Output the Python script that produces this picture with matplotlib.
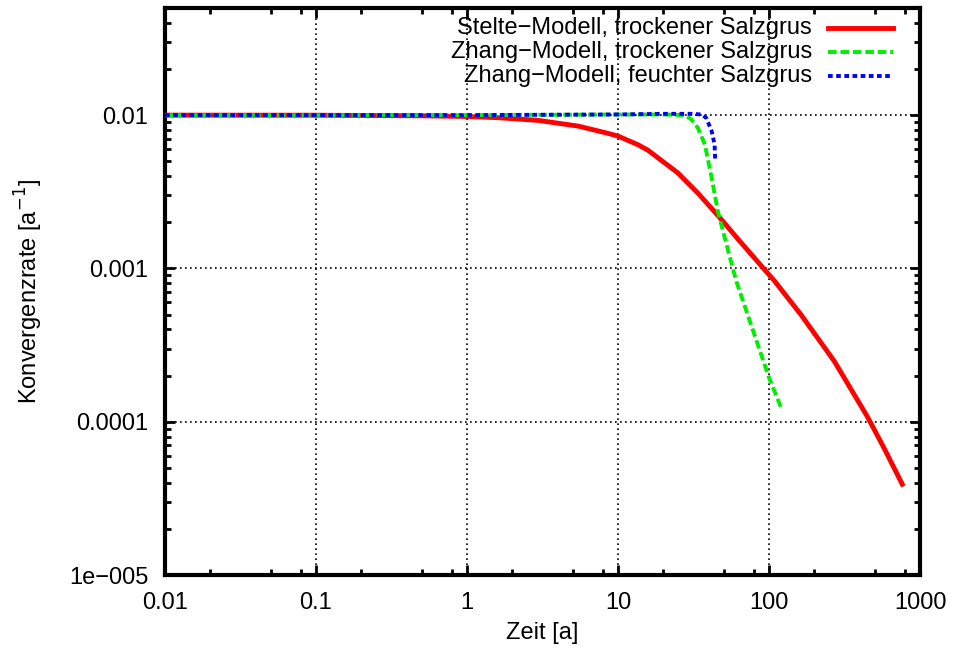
import matplotlib.pyplot as plt
from matplotlib.ticker import FixedLocator, FixedFormatter, NullFormatter
from matplotlib.lines import Line2D

plt.rcParams['font.family'] = ['Liberation Sans', 'DejaVu Sans']

# Stelte-Modell, trockener Salzgrus
stelte_t = [0.01, 0.1, 0.5, 1, 1.62, 2.97, 5.46, 8.61, 10.0, 13.6, 15.8, 24.9, 33.8,
            45.8, 62.1, 92, 108.6, 162.6, 270, 448, 578, 763]
stelte_k = [0.01, 0.00999, 0.0099, 0.0098, 0.00962, 0.00924, 0.00848, 0.0076, 0.0073,
            0.0064, 0.0059, 0.0042, 0.0031, 0.00222, 0.00156, 0.00100, 0.00083,
            5.0e-4, 2.49e-4, 1.08e-4, 6.73e-5, 3.91e-5]

# Zhang-Modell, trockener Salzgrus
zt_t = [0.01, 1, 10, 20, 27.7, 30.5, 33.8, 37.6, 41.7, 45.8, 50.9, 60.6, 100, 120]
zt_k = [0.01, 0.01, 0.0101, 0.0101, 0.0100, 0.0094, 0.00826, 0.00644, 0.0039,
        0.00237, 0.00159, 0.00083, 1.94e-4, 1.24e-4]

# Zhang-Modell, feuchter Salzgrus
zf_t = [0.01, 1, 10, 20, 30, 36, 38.4, 41.7, 43.6, 44.0]
zf_k = [0.01, 0.01, 0.0101, 0.0102, 0.0102, 0.0101, 0.0096, 0.00787, 0.00644, 0.00514]

labels = ['Stelte\u2212Modell, trockener Salzgrus',
          'Zhang\u2212Modell, trockener Salzgrus',
          'Zhang\u2212Modell, feuchter Salzgrus']
colors = ['#ff0000', '#00ee00', '#0000ff']
styles = ['-', (0, (2.2, 1.0)), (0, (1.2, 0.9))]
widths = [3.5, 2.8, 2.8]

x_ticks = [0.01, 0.1, 1, 10, 100, 1000]
x_ticklabels = ['0.01', '0.1', '1', '10', '100', '1000']
y_ticks = [1e-5, 1e-4, 1e-3, 1e-2]
y_ticklabels = ['1e\u2212005', '0.0001', '0.001', '0.01']

fs = 17

fig = plt.figure(figsize=(9.6, 6.55), dpi=100)
ax = fig.add_axes([165/960, 80/655, 755/960, 567/655])

series = [(stelte_t, stelte_k), (zt_t, zt_k), (zf_t, zf_k)]
for (t, k), c, ls, lw in zip(series, colors, styles, widths):
    ax.plot(t, k, color=c, linestyle=ls, linewidth=lw, zorder=3)

ax.set_xscale('log')
ax.set_yscale('log')
ax.set_xlim(0.01, 1000)
ax.set_ylim(1e-5, 0.05)

ax.xaxis.set_major_locator(FixedLocator(x_ticks))
ax.xaxis.set_major_formatter(FixedFormatter(x_ticklabels))
xminor = [m * d for d in [0.01, 0.1, 1, 10, 100] for m in (2, 5, 8)]
ax.xaxis.set_minor_locator(FixedLocator(xminor))
ax.xaxis.set_minor_formatter(NullFormatter())

ax.yaxis.set_major_locator(FixedLocator(y_ticks))
ax.yaxis.set_major_formatter(FixedFormatter(y_ticklabels))
yminor = [m * d for d in [1e-5, 1e-4, 1e-3, 1e-2] for m in range(2, 10) if m * d <= 0.05]
ax.yaxis.set_minor_locator(FixedLocator(yminor))
ax.yaxis.set_minor_formatter(NullFormatter())

ax.tick_params(which='both', direction='in', top=True, right=True, labelsize=fs)
ax.tick_params(which='major', length=7, width=2)
ax.tick_params(which='minor', length=4, width=2)
ax.tick_params(axis='x', pad=12)
ax.tick_params(axis='y', pad=12)

ax.grid(True, which='major', color='black', linestyle=(0, (1, 2)), linewidth=1.2)
for s in ax.spines.values():
    s.set_linewidth(3)

ax.set_xlabel('Zeit [a]', fontsize=fs)
ax.set_ylabel('Konvergenzrate [a$^{-1}$]', fontsize=fs)
ax.xaxis.set_label_coords(0.5, -0.102)
ax.xaxis.label.set_va('center')
ax.yaxis.set_label_coords(-0.18, 0.5)
ax.yaxis.label.set_va('center')

# legend in gnuplot style: right-aligned text, sample line on the right
for i, (lab, c, ls, lw) in enumerate(zip(labels, colors, styles, widths)):
    ypix = 28 + 24 * i
    yf = 1 - ypix / 655
    fig.text(812 / 960, yf, lab, ha='right', va='center', fontsize=fs)
    fig.add_artist(Line2D([828 / 960, 893 / 960], [yf, yf], color=c,
                          linestyle=ls, linewidth=lw, transform=fig.transFigure))

fig.savefig('out.png', dpi=100)
